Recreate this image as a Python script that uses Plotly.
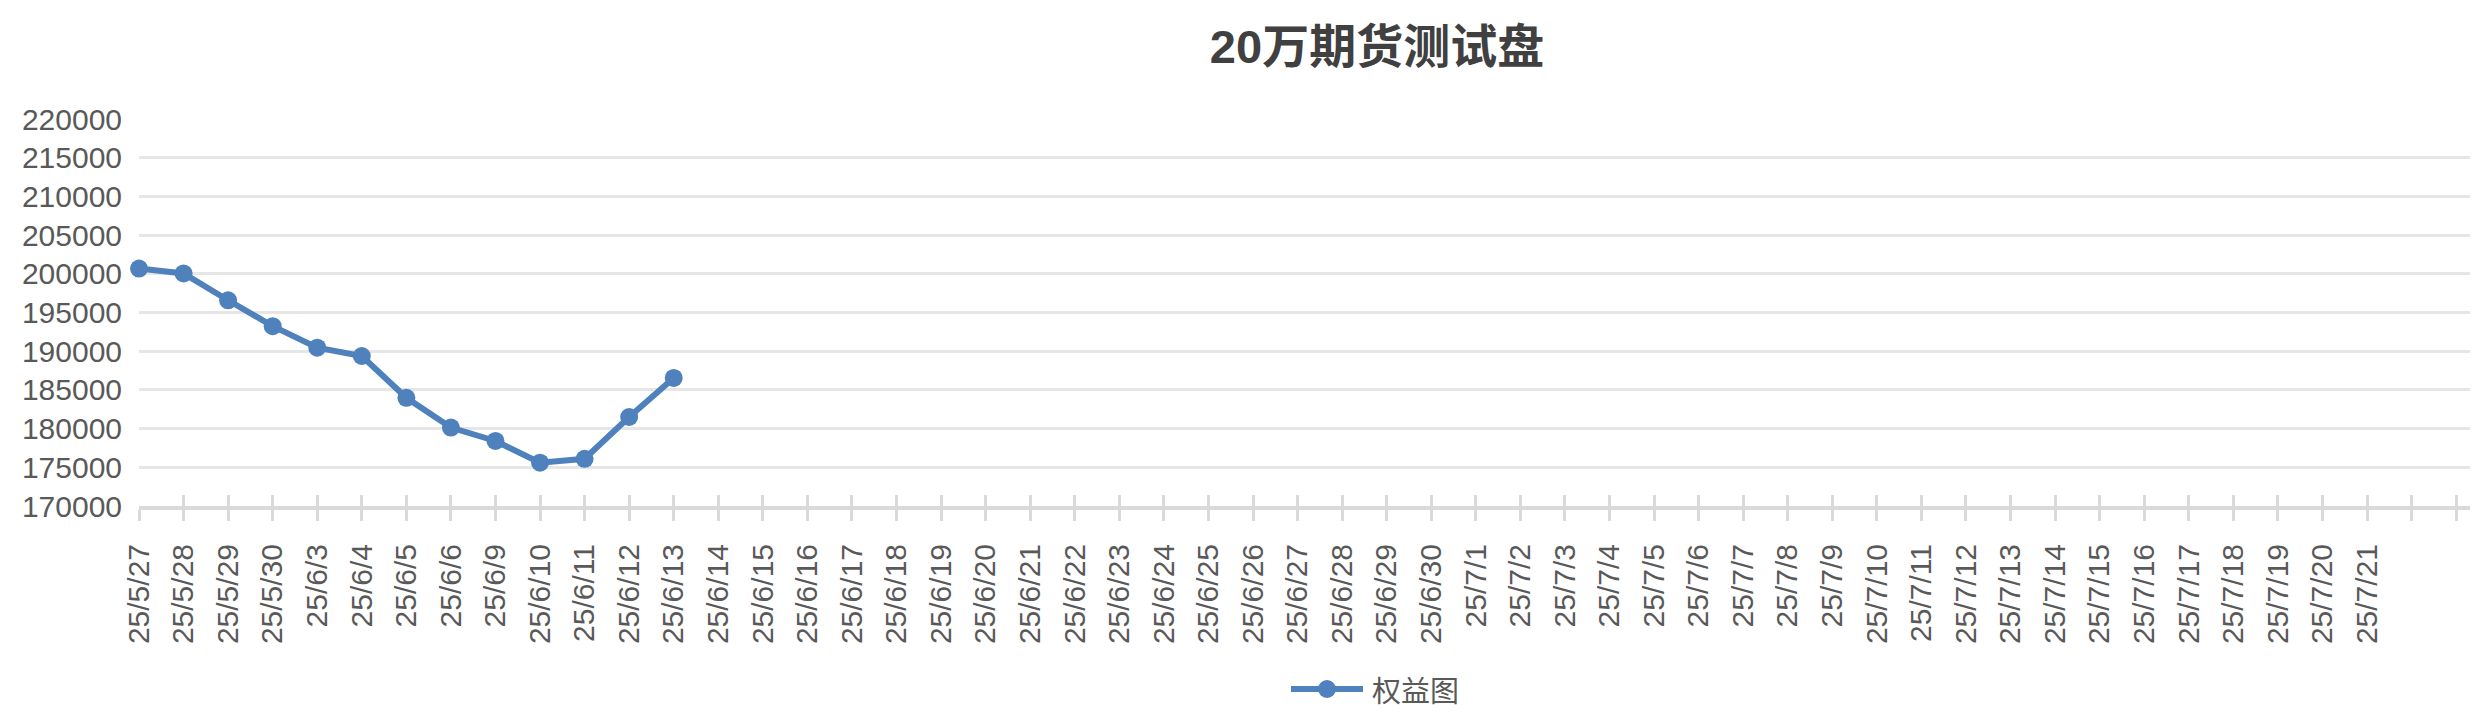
import plotly.graph_objects as go

# x categories (trading days) - last two slots have no label
dates = [
    "25/5/27", "25/5/28", "25/5/29", "25/5/30",
    "25/6/3", "25/6/4", "25/6/5", "25/6/6",
    "25/6/9", "25/6/10", "25/6/11", "25/6/12", "25/6/13", "25/6/14",
    "25/6/15", "25/6/16", "25/6/17", "25/6/18", "25/6/19", "25/6/20",
    "25/6/21", "25/6/22", "25/6/23", "25/6/24", "25/6/25", "25/6/26",
    "25/6/27", "25/6/28", "25/6/29", "25/6/30",
    "25/7/1", "25/7/2", "25/7/3", "25/7/4", "25/7/5", "25/7/6", "25/7/7",
    "25/7/8", "25/7/9", "25/7/10", "25/7/11", "25/7/12", "25/7/13",
    "25/7/14", "25/7/15", "25/7/16", "25/7/17", "25/7/18", "25/7/19",
    "25/7/20", "25/7/21", "", "",
]

# equity values, only the first days are filled
equity = [
    200680, 200050, 196580, 193230, 190450, 189380, 183980,
    180130, 178400, 175600, 176100, 181500, 186550,
]

series_name = "权益图"

y_ticks = list(range(170000, 220001, 5000))
y_labels = [str(v) for v in y_ticks]

# page body has an 8px margin, so work in figure coords = screen - 8
OFF = 8
W, H = 2478 - OFF, 712 - OFF
PLOT_L, PLOT_R = 139 - OFF, 2478 - OFF
PLOT_T, PLOT_B = 119 - OFF, 506 - OFF
STEP = 44.56  # px per category

x_idx = list(range(len(dates)))
x_max = (PLOT_R - PLOT_L) / STEP

BLUE = "rgb(79,129,189)"
AXIS_GRAY = "#d9d9d9"
GRID_GRAY = "#e6e6e6"
LABEL = "#595959"


def paper_x(px):
    return (px - OFF - PLOT_L) / (PLOT_R - PLOT_L)


def paper_y(py):
    return (PLOT_B - (py - OFF)) / (PLOT_B - PLOT_T)


fig = go.Figure()

fig.add_trace(go.Scatter(
    x=x_idx[:len(equity)], y=equity,
    mode="lines+markers", name=series_name,
    line=dict(color=BLUE, width=6),
    marker=dict(color=BLUE, size=18),
    cliponaxis=False, showlegend=False,
))

# second x axis only to draw the tick marks that go above the axis line
fig.add_trace(go.Scatter(
    x=[0], y=[None], xaxis="x2", showlegend=False, hoverinfo="skip",
))

# hand-made legend (long line symbol like the original)
leg_cx, leg_cy = paper_x(1327), paper_y(689)
fig.add_shape(
    type="line", xref="paper", yref="paper",
    xsizemode="pixel", ysizemode="pixel", xanchor=leg_cx, yanchor=leg_cy,
    x0=-36, x1=36, y0=0, y1=0,
    line=dict(color=BLUE, width=6),
)
fig.add_shape(
    type="circle", xref="paper", yref="paper",
    xsizemode="pixel", ysizemode="pixel", xanchor=leg_cx, yanchor=leg_cy,
    x0=-9, x1=9, y0=-9, y1=9,
    fillcolor=BLUE, line=dict(color=BLUE, width=0),
)
fig.add_annotation(
    text=series_name, xref="paper", yref="paper",
    x=paper_x(1370), y=leg_cy, xanchor="left", yanchor="middle",
    showarrow=False,
    font=dict(family="Noto Sans CJK SC", size=29, color=LABEL),
)

fig.update_layout(
    width=W, height=H,
    paper_bgcolor="white", plot_bgcolor="white",
    margin=dict(l=PLOT_L, r=W - PLOT_R, t=PLOT_T, b=H - PLOT_B, pad=0),
    title=dict(
        text="<b>20万期货测试盘</b>",
        font=dict(family="Liberation Sans, Noto Sans CJK SC", size=47, color="#404040"),
        xref="container", x=(1377 - OFF) / W, xanchor="center",
        yref="container", y=1 - (47 - OFF) / H, yanchor="middle",
    ),
    xaxis=dict(
        range=[0, x_max], automargin=False,
        tickmode="array", tickvals=x_idx, ticktext=dates,
        tickangle=-90,
        tickfont=dict(family="Liberation Sans, Arial", size=30, color=LABEL),
        ticks="outside", ticklen=11, tickwidth=3, tickcolor=AXIS_GRAY,
        ticklabelstandoff=11,
        showline=True, linecolor=AXIS_GRAY, linewidth=4,
        showgrid=False, zeroline=False,
    ),
    xaxis2=dict(
        range=[0, x_max], overlaying="x", anchor="y", side="bottom",
        automargin=False,
        tickmode="array", tickvals=x_idx,
        ticks="inside", ticklen=11, tickwidth=3, tickcolor=AXIS_GRAY,
        showticklabels=False, showline=False, showgrid=False, zeroline=False,
    ),
    yaxis=dict(
        range=[170000, 220000.01], automargin=False,
        tickmode="array", tickvals=y_ticks, ticktext=y_labels,
        tickfont=dict(family="Liberation Sans, Arial", size=30, color=LABEL),
        ticks="", ticklabelstandoff=16,
        showline=False, zeroline=False,
        showgrid=True, gridcolor=GRID_GRAY, gridwidth=3,
    ),
    showlegend=False,
    hovermode=False,
)

fig.write_html("out.html")
